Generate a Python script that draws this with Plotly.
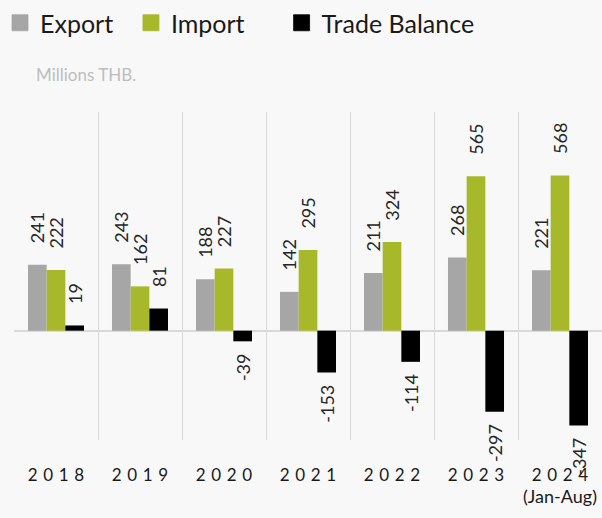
import plotly.graph_objects as go

years = ["2018", "2019", "2020", "2021", "2022", "2023", "2024"]
year_labels = ["2018", "2019", "2020", "2021", "2022", "2023", "2024<br>(Jan-Aug)"]
export_vals = [241, 243, 188, 142, 211, 268, 221]
import_vals = [222, 162, 227, 295, 324, 565, 568]
balance_vals = [19, 81, -39, -153, -114, -297, -347]

FONT = "Lato"
BG = "#f8f8f8"
GRID = "#d9d9d9"
NB = "\u00a0"


def spaced(lbl):
    # mimic Excel's letter-spaced year labels
    parts = lbl.split("<br>")
    parts[0] = "\u2004".join(parts[0])
    if len(parts) > 1:
        parts[1] = "<span style='font-size:18px'>" + parts[1] + "</span>"
    return "<br>".join(parts)


def label(v):
    # pad toward the bar so the label sits a bit away from it
    return NB * 4 + str(v) if v >= 0 else str(v) + NB * 2


series = [
    ("Export", export_vals, "#a6a6a6"),
    ("Import", import_vals, "#a8b82b"),
    ("Trade Balance", balance_vals, "#000000"),
]
legend_names = ["Export" + NB * 2, "Import" + NB * 5, "Trade Balance"]

fig = go.Figure()
for (name, vals, col), lname in zip(series, legend_names):
    fig.add_trace(go.Bar(
        x=years, y=vals, name=name, marker=dict(color=col, line=dict(width=0)),
        text=[label(v) for v in vals], textposition="outside", textangle=-90,
        textfont=dict(family=FONT, size=18, color="#262626"),
        constraintext="none", cliponaxis=False, showlegend=False,
        legendgroup=name,
    ))
    # legend-only entry so the swatch can be bigger than a bar swatch
    fig.add_trace(go.Scatter(
        x=[None], y=[None], mode="markers", name=lname, legendgroup=name,
        showlegend=True,
        marker=dict(symbol="square", size=16, color=col,
                    line=dict(width=0.8, color=col)),
    ))

fig.update_layout(
    width=602, height=518,
    margin=dict(l=14, r=0, t=112, b=78),
    paper_bgcolor=BG, plot_bgcolor=BG,
    barmode="group", bargap=0.333, bargroupgap=0,
    font=dict(family=FONT, color="#262626"),
    showlegend=True,
    legend=dict(
        orientation="h", xref="container", yref="container",
        x=0, y=1.0, xanchor="left", yanchor="top",
        font=dict(family=FONT, size=25, color="#1a1a1a"),
        itemsizing="trace", bgcolor="rgba(0,0,0,0)",
    ),
    xaxis=dict(
        type="category", tickson="boundaries", showgrid=True,
        gridcolor=GRID, gridwidth=1, ticks="", showline=False,
        tickvals=years, ticktext=[spaced(t) for t in year_labels],
        tickfont=dict(family=FONT, size=17, color="#1a1a1a"),
        tickangle=0, automargin=False, ticklabelstandoff=23,
    ),
    yaxis=dict(
        range=[-400, 800], showticklabels=False, showgrid=False,
        zeroline=True, zerolinecolor=GRID, zerolinewidth=2, automargin=False,
    ),
    annotations=[dict(
        text="Millions THB.", xref="paper", yref="paper",
        x=0.034, y=1.113, xanchor="left", yanchor="middle", showarrow=False,
        font=dict(family=FONT, size=17, color="#bdbdbd"),
    )],
)

# drop the page's default body margin so the figure fills the window
fig.write_html("out.html", config={"displayModeBar": False},
               post_script="document.body.style.margin='0';")
